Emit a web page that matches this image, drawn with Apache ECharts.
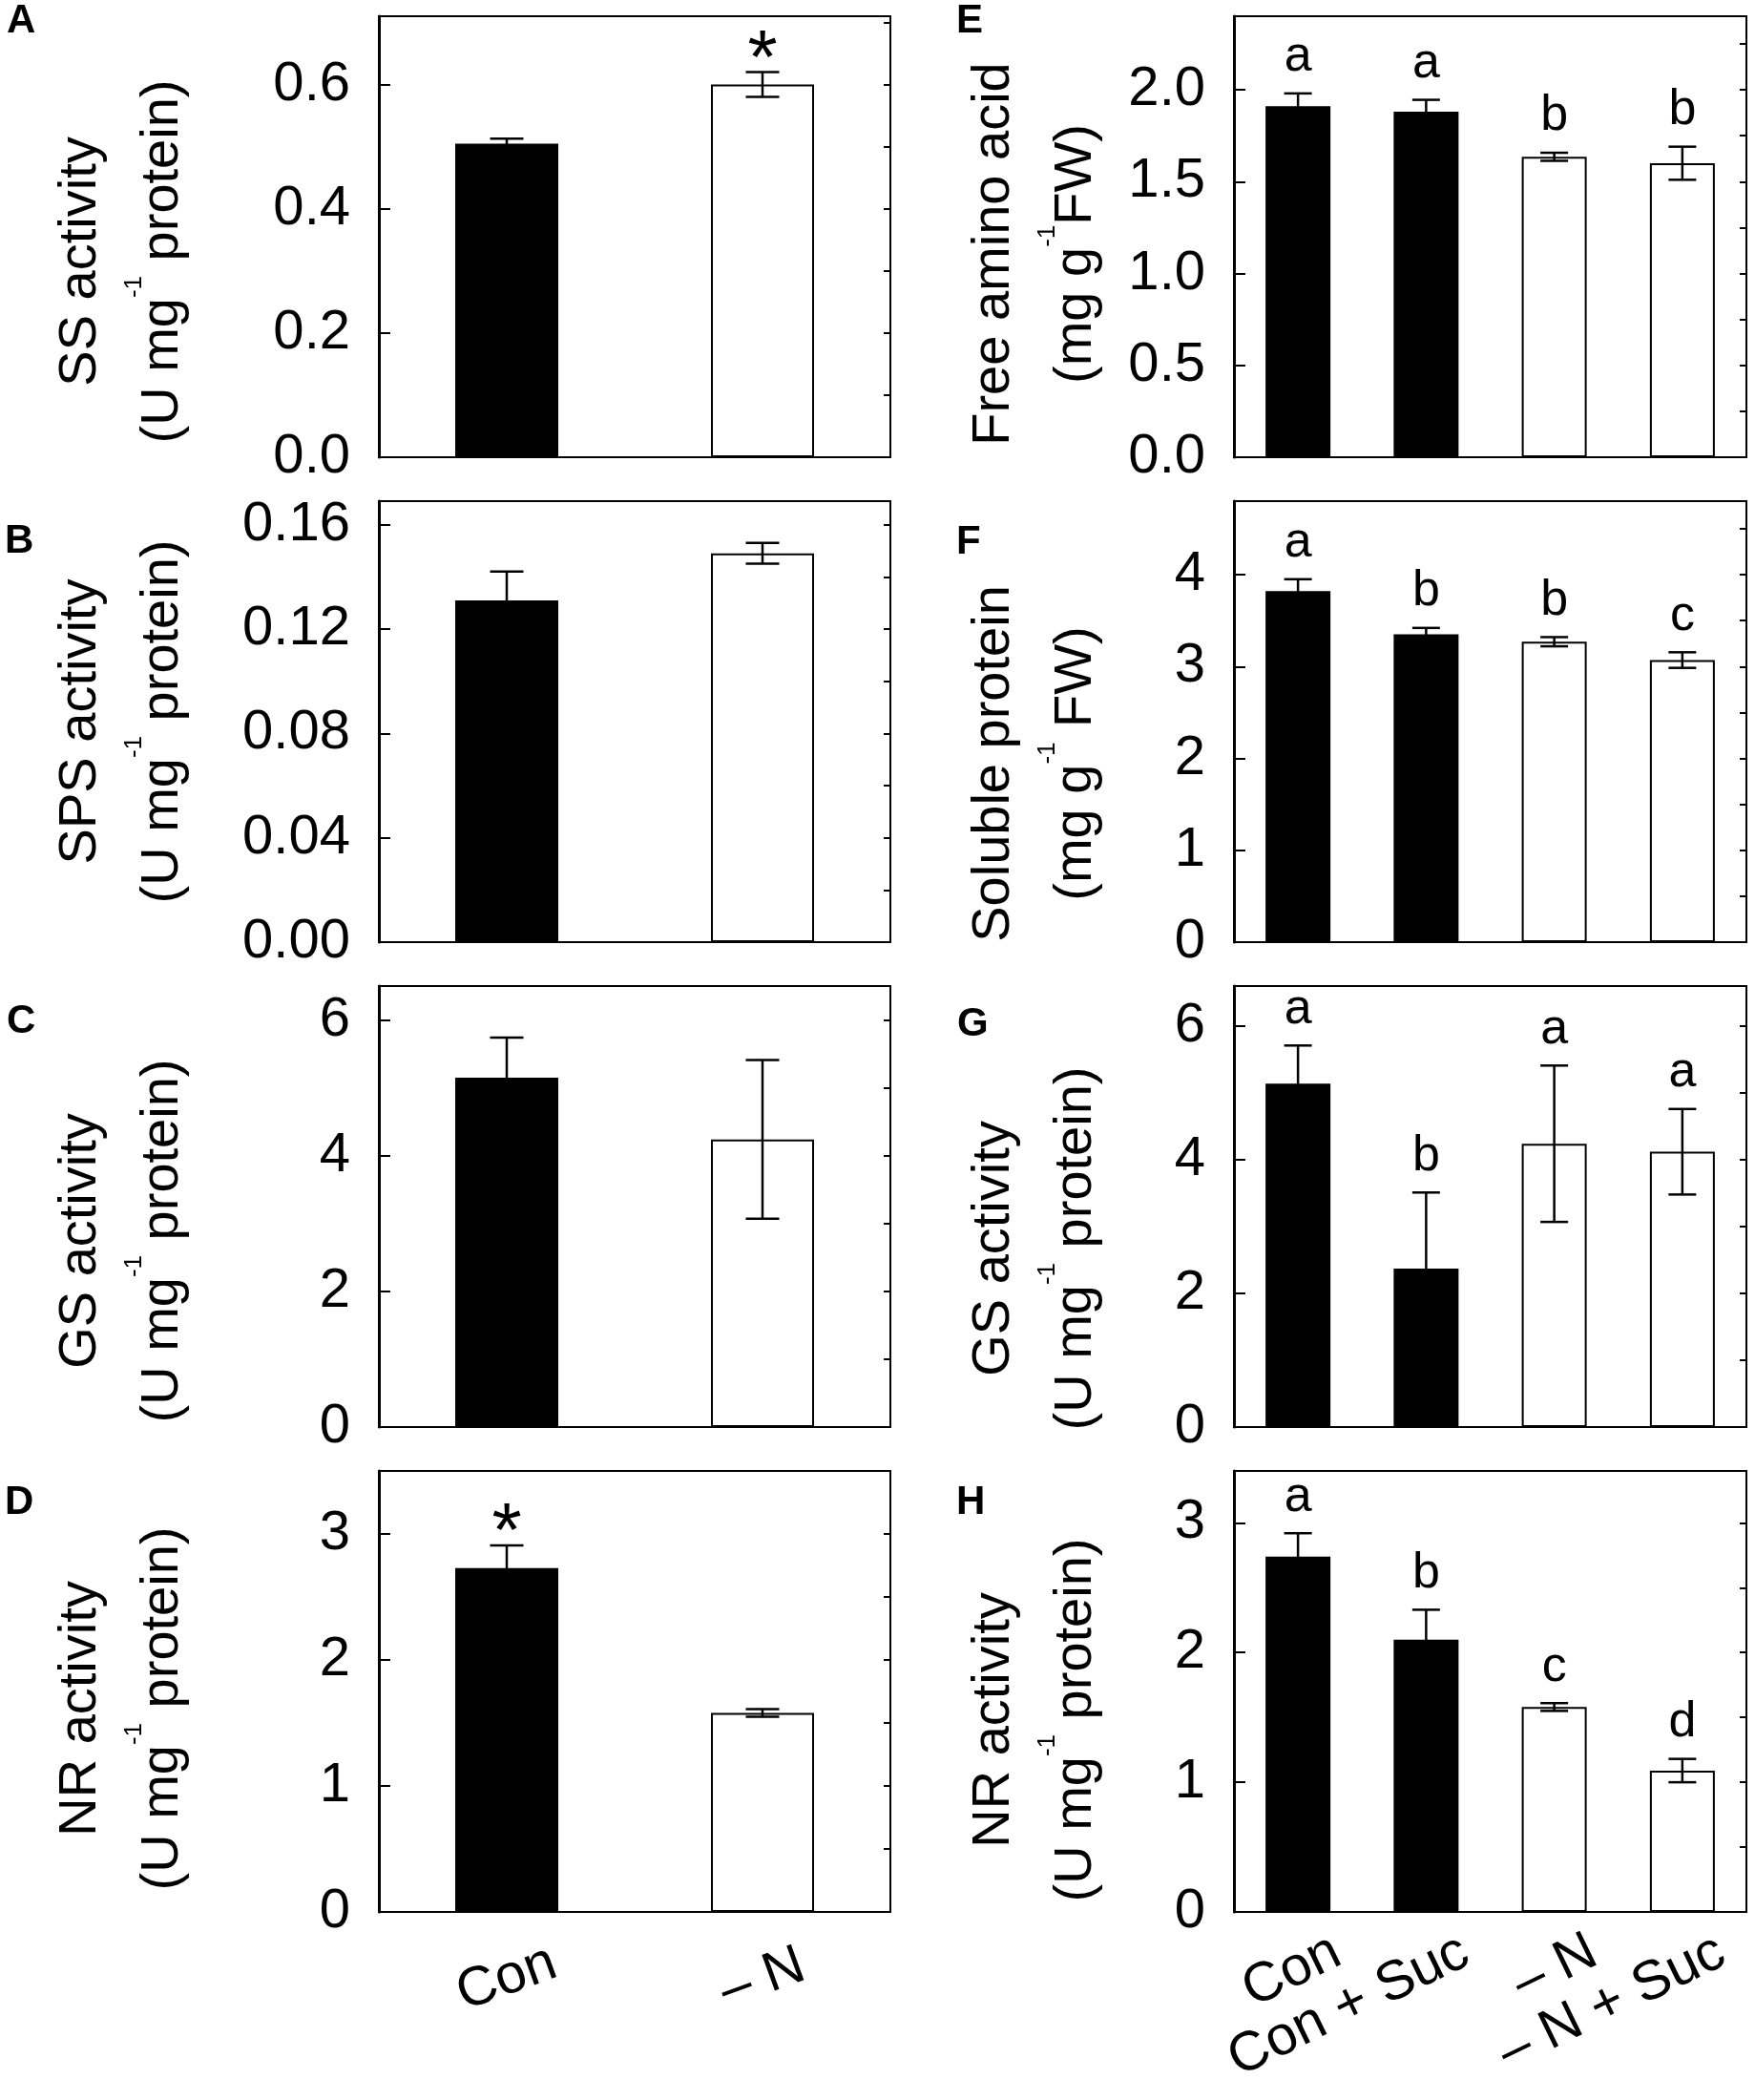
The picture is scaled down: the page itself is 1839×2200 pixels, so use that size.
<!DOCTYPE html>
<html>
<head>
<meta charset="utf-8">
<script src="https://cdn.jsdelivr.net/npm/echarts@6.0.0/dist/echarts.min.js"></script>
<style>
  html, body { margin: 0; background: #fff; }
  #main { width: 1839px; height: 2200px; }
</style>
</head>
<body>
<div id="main"></div>
<script>
var FONT = '"Liberation Sans", Arial, sans-serif';

// categories and bar fills
var catsLeft = ['Con', '\u2013 N'];
var catsRight = ['Con', 'Con + Suc', '\u2013 N', '\u2013 N + Suc'];
var fillLeft = ['#000', '#fff'];
var fillRight = ['#000', '#000', '#fff', '#fff'];

// A-D: Con vs -N
var ssMean = [0.505, 0.600];
var ssErr = [0.008, 0.020];
var ssMark = ['', '*'];
var spsMean = [0.131, 0.149];
var spsErr = [0.011, 0.004];
var spsMark = ['', ''];
var gsMean = [5.15, 4.24];
var gsErr = [0.59, 1.17];
var gsMark = ['', ''];
var nrMean = [2.73, 1.58];
var nrErr = [0.18, 0.03];
var nrMark = ['*', ''];

// E-H: four treatments
var aaMean = [1.91, 1.88, 1.635, 1.60];
var aaErr = [0.07, 0.065, 0.022, 0.09];
var aaMark = ['a', 'a', 'b', 'b'];
var spMean = [3.82, 3.35, 3.27, 3.07];
var spErr = [0.13, 0.07, 0.05, 0.085];
var spMark = ['a', 'b', 'b', 'c'];
var gs2Mean = [5.14, 2.37, 4.24, 4.12];
var gs2Err = [0.57, 1.14, 1.17, 0.64];
var gs2Mark = ['a', 'b', 'a', 'a'];
var nr2Mean = [2.74, 2.10, 1.58, 1.09];
var nr2Err = [0.18, 0.23, 0.03, 0.09];
var nr2Mark = ['a', 'b', 'c', 'd'];

// y axis ranges, tick steps and label decimals (A..H)
var axisMax = [0.71, 0.169, 6.5, 3.5, 2.4, 4.8, 6.6, 3.4];
var axisStep = [0.2, 0.04, 2, 1, 0.5, 1, 2, 1];
var axisDec = [1, 2, 0, 0, 1, 0, 0, 0];

var panels = [
  { label: 'A', cats: catsLeft, fill: fillLeft, mean: ssMean, err: ssErr, mark: ssMark, t1: 'SS activity', t2: '(U mg', t3: ' protein)' },
  { label: 'B', cats: catsLeft, fill: fillLeft, mean: spsMean, err: spsErr, mark: spsMark, t1: 'SPS activity', t2: '(U mg', t3: ' protein)' },
  { label: 'C', cats: catsLeft, fill: fillLeft, mean: gsMean, err: gsErr, mark: gsMark, t1: 'GS activity', t2: '(U mg', t3: ' protein)' },
  { label: 'D', cats: catsLeft, fill: fillLeft, mean: nrMean, err: nrErr, mark: nrMark, t1: 'NR activity', t2: '(U mg', t3: ' protein)' },
  { label: 'E', cats: catsRight, fill: fillRight, mean: aaMean, err: aaErr, mark: aaMark, t1: 'Free amino acid', t2: '(mg g', t3: 'FW)' },
  { label: 'F', cats: catsRight, fill: fillRight, mean: spMean, err: spErr, mark: spMark, t1: 'Soluble protein', t2: '(mg g', t3: ' FW)' },
  { label: 'G', cats: catsRight, fill: fillRight, mean: gs2Mean, err: gs2Err, mark: gs2Mark, t1: 'GS activity', t2: '(U mg', t3: ' protein)' },
  { label: 'H', cats: catsRight, fill: fillRight, mean: nr2Mean, err: nr2Err, mark: nr2Mark, t1: 'NR activity', t2: '(U mg', t3: ' protein)' }
];

// layout
var colLeft = [397, 1293];
var colWidth = [536, 537];
var rowTop = [17, 525, 1033, 1541];
var plotH = 462;
var barW = [108, 68];
var capW = [35, 29];
var nameGap = [183, 122];
var titleShift = [26, 0, 36, 18, 18, 44, 44, 30];
var labelPos = [[22, 22], [20, 567], [22, 1070], [20, 1574], [1017, 22], [1017, 568], [1018, 1073], [1017, 1574]];

var myChart = echarts.init(document.getElementById('main'));

var grids = [], xAxes = [], yAxes = [], series = [], titles = [];

panels.forEach(function (p, i) {
  var col = i < 4 ? 0 : 1;
  var row = i % 4;
  var step = axisStep[i];

  grids.push({
    left: colLeft[col], top: rowTop[row], width: colWidth[col], height: plotH,
    show: true, borderColor: '#000', borderWidth: 2, backgroundColor: 'transparent'
  });

  var xLabel = { show: false };
  if (i === 3) {
    xLabel = { show: true, interval: 0, rotate: 20, align: 'center', verticalAlign: 'middle', margin: 70,
      fontSize: 58, fontFamily: FONT, color: '#000' };
  } else if (i === 7) {
    xLabel = { show: true, interval: 0, hideOverlap: false, rotate: 26, align: 'right', verticalAlign: 'top',
      margin: 27, padding: [0, -32, 0, 0], fontSize: 58, fontFamily: FONT, color: '#000' };
  }
  xAxes.push({
    gridIndex: i, type: 'category', data: p.cats,
    axisLine: { lineStyle: { color: '#000', width: 2 } },
    axisTick: { show: false },
    axisLabel: xLabel,
    splitLine: { show: false }
  });

  // major ticks with labels and the axis title
  yAxes.push({
    gridIndex: i, type: 'value', min: 0, max: axisMax[i], interval: step,
    axisLine: { show: true, lineStyle: { color: '#000', width: 3 } },
    axisTick: { show: true, inside: true, length: 12, lineStyle: { color: '#000', width: 2 } },
    axisLabel: {
      margin: 30, fontSize: 58, fontFamily: FONT, color: '#000',
      formatter: function (v) {
        var k = v / step;
        return Math.abs(k - Math.round(k)) < 1e-6 ? v.toFixed(axisDec[i]) : '';
      }
    },
    splitLine: { show: false },
    name: '{t|' + p.t1 + '}\n{t|' + p.t2 + '}{s|-1}{t|' + p.t3 + '}',
    nameLocation: 'middle', nameGap: nameGap[col], nameRotate: 90,
    nameTextStyle: {
      padding: [0, 2 * titleShift[i], 0, 0],
      rich: {
        t: { fontSize: 56, lineHeight: 86, fontFamily: FONT, color: '#000' },
        s: { fontSize: 26, lineHeight: 46, verticalAlign: 'top', fontFamily: FONT, color: '#000' }
      }
    }
  });
  // minor ticks
  yAxes.push({
    gridIndex: i, type: 'value', min: 0, max: axisMax[i], interval: step / 2,
    axisLine: { show: false },
    axisTick: { show: true, inside: true, length: 7, lineStyle: { color: '#000', width: 2 } },
    axisLabel: { show: false },
    splitLine: { show: false }
  });

  series.push({
    type: 'bar', xAxisIndex: i, yAxisIndex: 2 * i, barWidth: barW[col], z: 2,
    data: p.mean.map(function (m, j) {
      return { value: m, itemStyle: { color: p.fill[j], borderColor: '#000', borderWidth: 2 } };
    })
  });

  series.push({
    type: 'custom', xAxisIndex: i, yAxisIndex: 2 * i, z: 5,
    data: p.mean.map(function (m, j) { return [j, m, p.err[j]]; }),
    renderItem: function (params, api) {
      var j = api.value(0), m = api.value(1), e = api.value(2);
      var hi = api.coord([j, m + e]);
      var lo = api.coord([j, m - e]);
      var hw = capW[col] / 2;
      var ls = { stroke: '#000', lineWidth: 2.5 };
      var children = [
        { type: 'line', shape: { x1: hi[0], y1: hi[1], x2: lo[0], y2: lo[1] }, style: ls },
        { type: 'line', shape: { x1: hi[0] - hw, y1: hi[1], x2: hi[0] + hw, y2: hi[1] }, style: ls },
        { type: 'line', shape: { x1: lo[0] - hw, y1: lo[1], x2: lo[0] + hw, y2: lo[1] }, style: ls }
      ];
      var t = p.mark[params.dataIndex];
      if (t) {
        var star = t === '*';
        children.push({
          type: 'text',
          style: {
            text: t, x: hi[0], y: hi[1] + (star ? 29 : -12),
            align: 'center', verticalAlign: 'bottom',
            fontSize: star ? 80 : 52, lineHeight: star ? 80 : 52,
            fontFamily: FONT, fill: '#000'
          }
        });
      }
      return { type: 'group', children: children };
    }
  });

  // panel letter
  titles.push({
    text: p.label, left: labelPos[i][0] - 15, top: labelPos[i][1] - 21, padding: 0,
    textStyle: { fontSize: 42, fontWeight: 'bold', fontFamily: FONT, color: '#000', lineHeight: 42 }
  });
});

var option = {
  backgroundColor: '#fff',
  animation: false,
  title: titles,
  grid: grids,
  xAxis: xAxes,
  yAxis: yAxes,
  series: series
};

option && myChart.setOption(option);
</script>
</body>
</html>
